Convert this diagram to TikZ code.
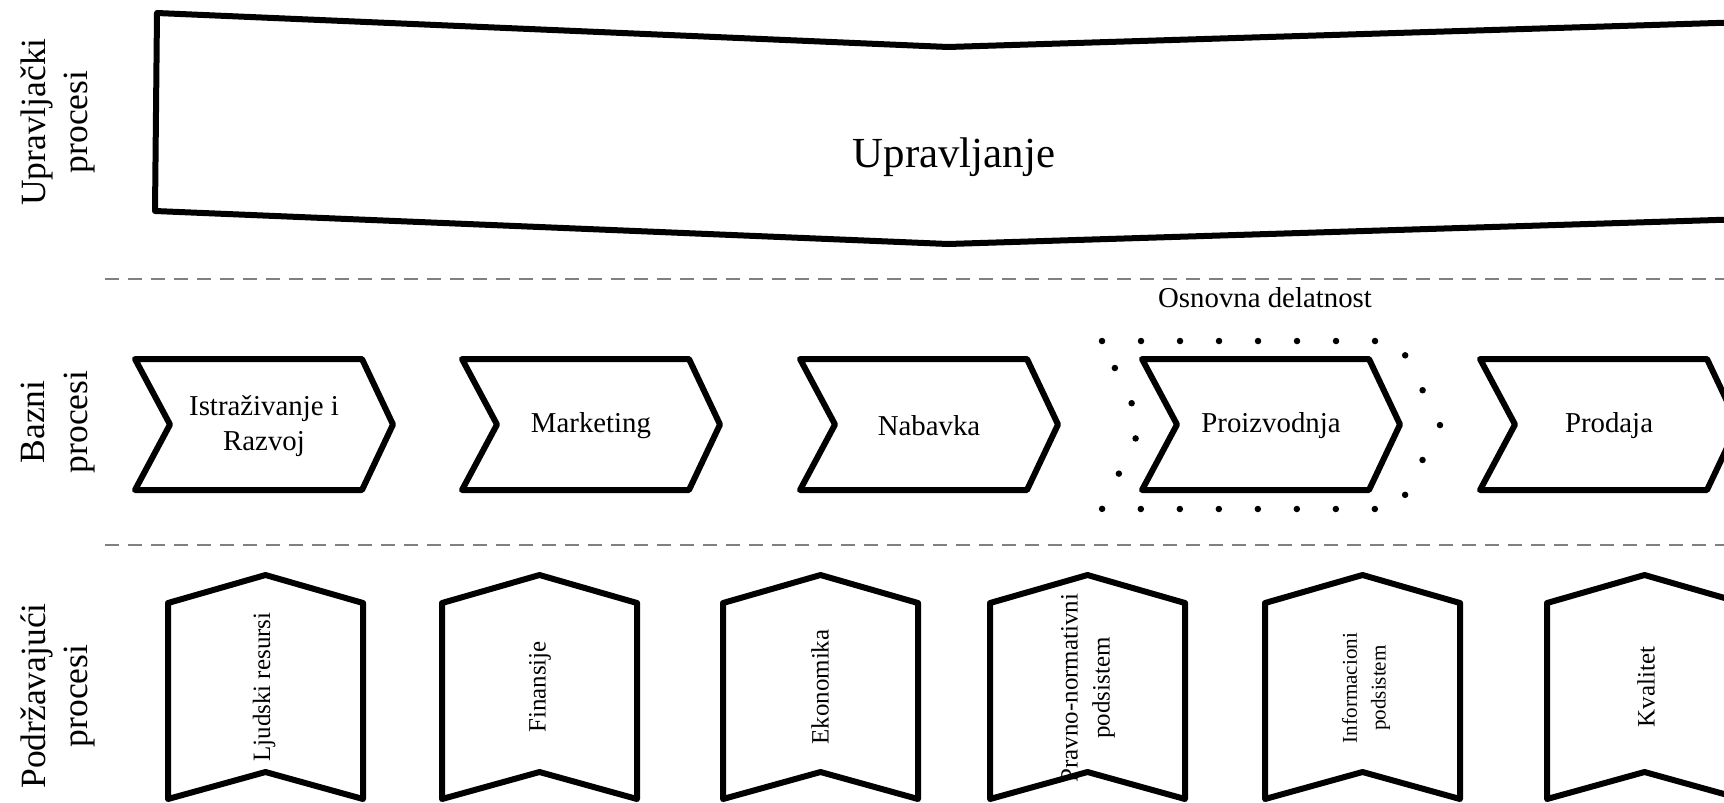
\documentclass[tikz,border=0pt]{standalone}
\usepackage{fontspec}
\setmainfont{Liberation Serif}
\tikzset{%
  proc/.style      = {draw, line width=0.06cm, line join=round, fill=white},
  sidelabel/.style = {rotate=90, align=center, font=\fontsize{10.1}{12.1}\selectfont},
  baselabel/.style = {align=center, font=\fontsize{8.2}{10}\selectfont},
  suplabel/.style  = {rotate=90, align=center, font=\fontsize{7.1}{9.1}\selectfont},
  divider/.style   = {draw=gray, line width=0.015cm, dash pattern=on 0.14cm off 0.09cm},
  coreline/.style  = {draw, line width=0.065cm, line cap=round, dash pattern=on 0pt off 0.39cm}
}

\begin{document}
\begin{tikzpicture}

\useasboundingbox (0,0) rectangle (17.24,-8.02);
\clip (0,0) rectangle (17.24,-8.02);

% upravljacki procesi
\draw[proc] (1.57,-0.13) -- (9.48,-0.47) -- (17.80,-0.21) -- (17.80,-2.18)
  -- (9.48,-2.44) -- (1.55,-2.11) -- cycle;
\node [font=\fontsize{12.2}{14.6}\selectfont] (upr) at (9.54,-1.57) {Upravljanje};

\draw[divider] (1.05,-2.79) -- (17.24,-2.79);
\draw[divider] (1.05,-5.45) -- (17.24,-5.45);

\node [sidelabel] (uprlbl) at (0.58,-1.22) {Upravljački\\procesi};
\node [sidelabel] (bazlbl) at (0.58,-4.22) {Bazni\\procesi};
\node [sidelabel] (podlbl) at (0.58,-6.96) {Podržavajući\\procesi};

% bazni procesi
\draw[proc] (1.35,-3.59) -- ++(2.27,0) -- ++(0.31,-0.655) -- ++(-0.31,-0.655) -- ++(-2.27,0) -- ++(0.35,0.655) -- cycle;
\draw[proc] (4.62,-3.59) -- ++(2.27,0) -- ++(0.31,-0.655) -- ++(-0.31,-0.655) -- ++(-2.27,0) -- ++(0.35,0.655) -- cycle;
\draw[proc] (8.00,-3.59) -- ++(2.27,0) -- ++(0.31,-0.655) -- ++(-0.31,-0.655) -- ++(-2.27,0) -- ++(0.35,0.655) -- cycle;
\draw[proc] (11.42,-3.59) -- ++(2.27,0) -- ++(0.31,-0.655) -- ++(-0.31,-0.655) -- ++(-2.27,0) -- ++(0.35,0.655) -- cycle;
\draw[proc] (14.80,-3.59) -- ++(2.27,0) -- ++(0.31,-0.655) -- ++(-0.31,-0.655) -- ++(-2.27,0) -- ++(0.35,0.655) -- cycle;

\node [baselabel] (istr) at (2.64,-4.26) {Istraživanje i\\Razvoj};
\node [baselabel] (mark) at (5.91,-4.26) {Marketing};
\node [baselabel] (nab)  at (9.29,-4.26) {Nabavka};
\node [baselabel] (proi) at (12.71,-4.26) {Proizvodnja};
\node [baselabel] (prod) at (16.09,-4.26) {Prodaja};

% osnovna delatnost
\draw[coreline] (11.02,-3.41) -- (13.98,-3.41) -- (14.40,-4.25) -- (13.98,-5.09)
  -- (11.02,-5.09) -- (11.42,-4.25) -- cycle;
\node [baselabel] (osn) at (12.65,-2.98) {Osnovna delatnost};

% podrzavajuci procesi
\draw[proc] (1.68,-6.03) -- ++(0.975,0.28) -- ++(0.975,-0.28) -- ++(0,-1.96) -- ++(-0.975,0.27) -- ++(-0.975,-0.27) -- cycle;
\draw[proc] (4.42,-6.03) -- ++(0.975,0.28) -- ++(0.975,-0.28) -- ++(0,-1.96) -- ++(-0.975,0.27) -- ++(-0.975,-0.27) -- cycle;
\draw[proc] (7.23,-6.03) -- ++(0.975,0.28) -- ++(0.975,-0.28) -- ++(0,-1.96) -- ++(-0.975,0.27) -- ++(-0.975,-0.27) -- cycle;
\draw[proc] (9.90,-6.03) -- ++(0.975,0.28) -- ++(0.975,-0.28) -- ++(0,-1.96) -- ++(-0.975,0.27) -- ++(-0.975,-0.27) -- cycle;
\draw[proc] (12.65,-6.03) -- ++(0.975,0.28) -- ++(0.975,-0.28) -- ++(0,-1.96) -- ++(-0.975,0.27) -- ++(-0.975,-0.27) -- cycle;
\draw[proc] (15.47,-6.03) -- ++(0.975,0.28) -- ++(0.975,-0.28) -- ++(0,-1.96) -- ++(-0.975,0.27) -- ++(-0.975,-0.27) -- cycle;

\node [suplabel] (ljr)  at (2.64,-6.87) {Ljudski resursi};
\node [suplabel] (fin)  at (5.40,-6.87) {Finansije};
\node [suplabel] (eko)  at (8.20,-6.87) {Ekonomika};
\node [suplabel] (prav) at (10.88,-6.88) {Pravno-normativni\\podsistem};
\node [suplabel, font=\fontsize{6}{8.2}\selectfont] (inf) at (13.66,-6.88) {Informacioni\\podsistem};
\node [suplabel] (kval) at (16.46,-6.87) {Kvalitet};

\end{tikzpicture}
\end{document}
